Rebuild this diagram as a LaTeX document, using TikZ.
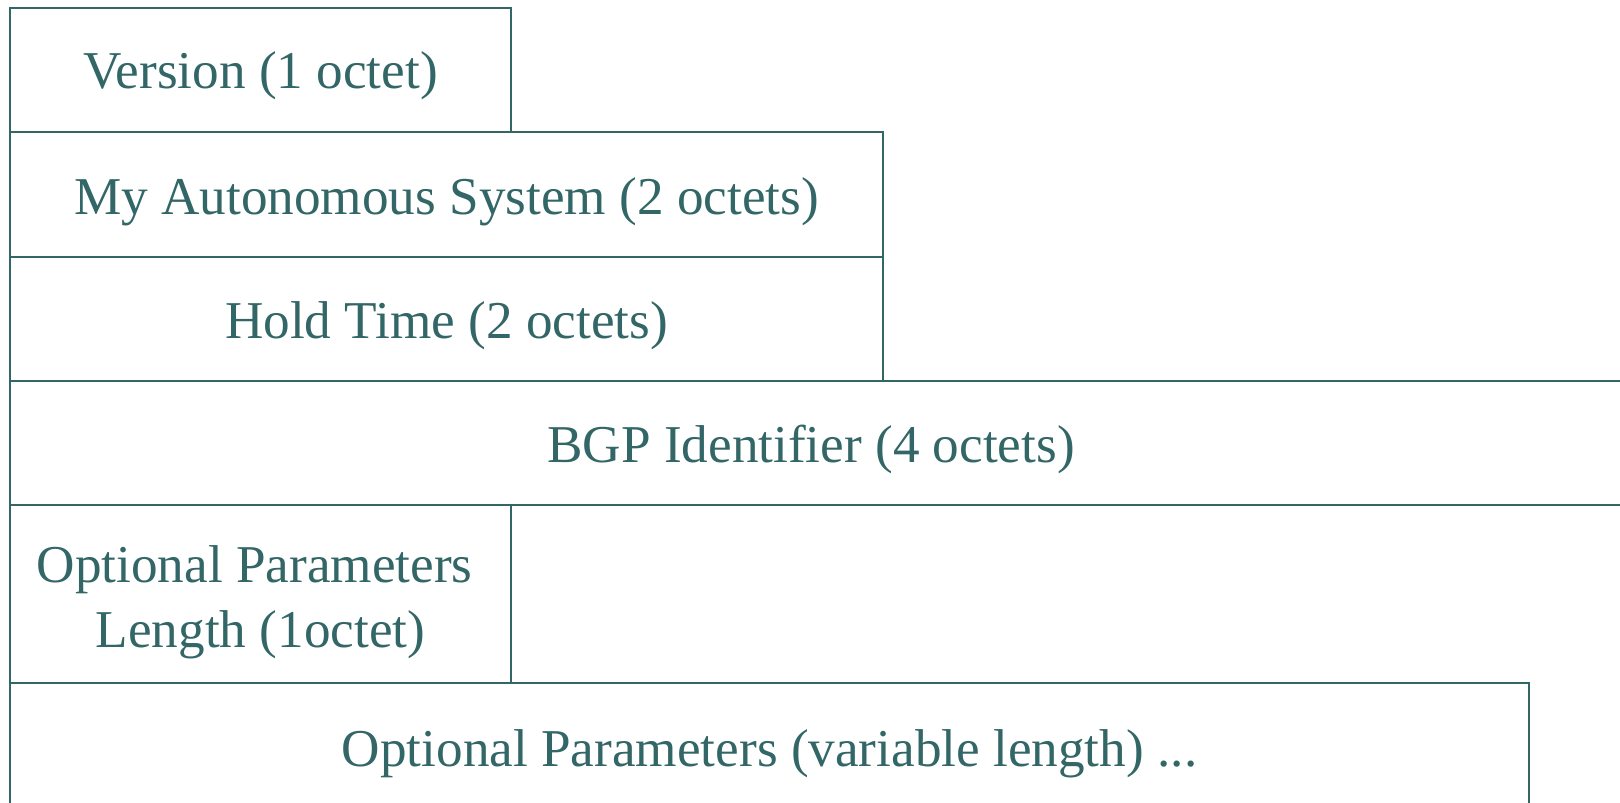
\documentclass[tikz,border=0pt]{standalone}
\usepackage{fontspec}
\setmainfont{Liberation Serif}
\definecolor{teal}{HTML}{336666}
\begin{document}
\begin{tikzpicture}[x=0.5pt,y=-0.5pt,
  fieldbox/.style={draw=teal, line width=1pt, rectangle, outer sep=0pt, inner sep=0pt, anchor=north west},
  lbl/.style={text=teal, font=\fontsize{26.6}{30}\selectfont, anchor=base, inner sep=0pt}]
\clip (0,0) rectangle (1620,802);
\node[fieldbox, minimum width=250.5pt, minimum height=62pt] (ver) at (10,8) {};
\node[fieldbox, minimum width=436.5pt, minimum height=62.5pt] (myas) at (10,132) {};
\node[fieldbox, minimum width=436.5pt, minimum height=62pt] (hold) at (10,257) {};
\node[fieldbox, minimum width=815pt, minimum height=62pt] (bgp) at (10,381) {};
\node[fieldbox, minimum width=250.5pt, minimum height=89pt] (opl) at (10,505) {};
\node[fieldbox, minimum width=759.5pt, minimum height=65pt] (op) at (10,683) {};
\node[lbl] (tver) at (260.5,89) {Version (1 octet)};
\node[lbl] (tmyas) at (446.5,214) {My Autonomous System (2 octets)};
\node[lbl] (thold) at (446.5,338) {Hold Time (2 octets)};
\node[lbl] (tbgp) at (811,462) {BGP Identifier (4 octets)};
\node[lbl] (topl1) at (254.5,582) {Optional Parameters};
\node[lbl] (topl2) at (260.5,647) {Length (1octet)};
\node[lbl] (top) at (769.5,766) {Optional Parameters (variable length) ...};
\end{tikzpicture}
\end{document}
